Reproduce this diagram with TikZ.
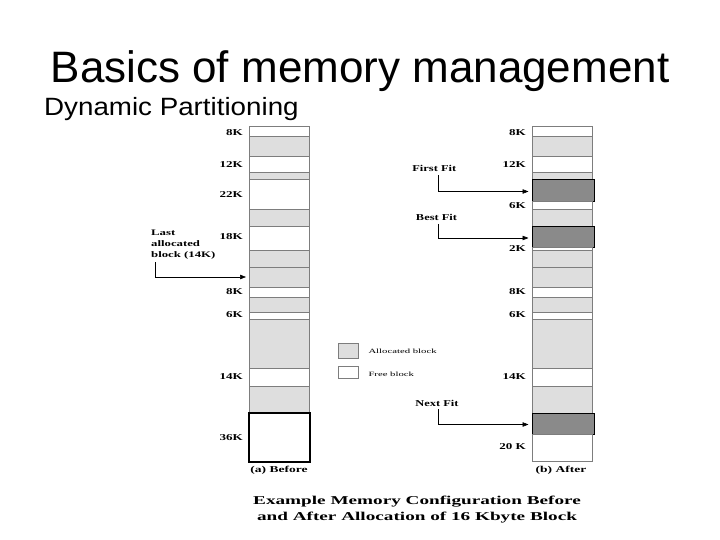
\documentclass[tikz,border=0pt]{standalone}
\usepackage{fontspec}
\setmainfont{Liberation Serif}
\newfontfamily\arialfont{Liberation Sans}
\usetikzlibrary{arrows.meta}
\definecolor{allocgray}{RGB}{222,222,222}
\definecolor{newgray}{RGB}{138,138,138}
\definecolor{linegray}{RGB}{125,125,125}
\newcommand{\stx}[2][1.45]{\scalebox{#1}[1]{#2}}
\tikzset{
  blk/.style={draw=linegray, line width=0.7pt, minimum width=60pt, anchor=north west, inner sep=0pt, outer sep=0pt},
  alloc/.style={blk, fill=allocgray},
  freeb/.style={blk, fill=white},
  newb/.style={blk, fill=newgray, draw=black, minimum width=61.5pt},
  lbl/.style={font=\fontsize{9}{10}\selectfont\bfseries, anchor=east, inner sep=0pt},
  fitlbl/.style={font=\fontsize{9}{10}\selectfont\bfseries, anchor=base, inner sep=0pt},
  arr/.style={-{Triangle[length=6pt,width=4.5pt]}, line width=0.6pt},
  legtxt/.style={font=\fontsize{6.5}{7}\selectfont, anchor=west, inner sep=0pt}
}
\begin{document}
\begin{tikzpicture}[x=1pt,y=-1pt]
\useasboundingbox (0,0) rectangle (720,540);
% titles
\node[anchor=base, inner sep=0pt, font=\arialfont\fontsize{44}{48}\selectfont] (title) at (360,83) {Basics of memory management};
\node[anchor=base west, inner sep=0pt, font=\arialfont\fontsize{25}{28}\selectfont] (sub) at (44,116) {\stx[1.11]{Dynamic Partitioning}};
% left column (before)
\node[freeb, minimum height=10pt] (l1) at (249,126) {};
\node[alloc, minimum height=20pt] (l2) at (249,136) {};
\node[freeb, minimum height=16pt] (l3) at (249,156) {};
\node[alloc, minimum height=7pt] (l4) at (249,172) {};
\node[freeb, minimum height=30pt] (l5) at (249,179) {};
\node[alloc, minimum height=17pt] (l6) at (249,209) {};
\node[freeb, minimum height=24pt] (l7) at (249,226) {};
\node[alloc, minimum height=17pt] (l8) at (249,250) {};
\node[alloc, minimum height=20pt] (l9) at (249,267) {};
\node[freeb, minimum height=10pt] (l10) at (249,287) {};
\node[alloc, minimum height=15pt] (l11) at (249,297) {};
\node[freeb, minimum height=7pt] (l12) at (249,312) {};
\node[alloc, minimum height=49pt] (l13) at (249,319) {};
\node[freeb, minimum height=18pt] (l14) at (249,368) {};
\node[alloc, minimum height=27pt] (l15) at (249,386) {};
\node[freeb, minimum height=49pt, draw=black, line width=1.1pt, minimum width=61pt] (l16) at (249,413) {};
% right column (after)
\node[freeb, minimum height=10pt] (r1) at (532.5,126) {};
\node[alloc, minimum height=20pt] (r2) at (532.5,136) {};
\node[freeb, minimum height=16pt] (r3) at (532.5,156) {};
\node[alloc, minimum height=7pt] (r4) at (532.5,172) {};
\node[newb, minimum height=22pt] (r5) at (532.5,179) {};
\node[freeb, minimum height=8pt] (r6) at (532.5,201) {};
\node[alloc, minimum height=17pt] (r7) at (532.5,209) {};
\node[newb, minimum height=21pt] (r8) at (532.5,226) {};
\node[freeb, minimum height=3pt] (r9) at (532.5,247) {};
\node[alloc, minimum height=17pt] (r10) at (532.5,250) {};
\node[alloc, minimum height=20pt] (r11) at (532.5,267) {};
\node[freeb, minimum height=10pt] (r12) at (532.5,287) {};
\node[alloc, minimum height=15pt] (r13) at (532.5,297) {};
\node[freeb, minimum height=7pt] (r14) at (532.5,312) {};
\node[alloc, minimum height=49pt] (r15) at (532.5,319) {};
\node[freeb, minimum height=18pt] (r16) at (532.5,368) {};
\node[alloc, minimum height=27pt] (r17) at (532.5,386) {};
\node[newb, minimum height=21pt] (r18) at (532.5,413) {};
\node[freeb, minimum height=27pt] (r19) at (532.5,434) {};
% left size labels
\node[lbl] (ll1) at (243,132.7) {\stx{8K}};
\node[lbl] (ll2) at (243,165) {\stx{12K}};
\node[lbl] (ll3) at (243,195) {\stx{22K}};
\node[lbl] (ll4) at (243,236.7) {\stx{18K}};
\node[lbl] (ll5) at (243,291.7) {\stx{8K}};
\node[lbl] (ll6) at (243,315) {\stx{6K}};
\node[lbl] (ll7) at (243,377) {\stx{14K}};
\node[lbl] (ll8) at (243,438) {\stx{36K}};
% right size labels
\node[lbl] (rl1) at (526,132.7) {\stx{8K}};
\node[lbl] (rl2) at (526,165) {\stx{12K}};
\node[lbl] (rl3) at (526,206) {\stx{6K}};
\node[lbl] (rl4) at (526,248.3) {\stx{2K}};
\node[lbl] (rl5) at (526,292) {\stx{8K}};
\node[lbl] (rl6) at (526,315) {\stx{6K}};
\node[lbl] (rl7) at (526,377) {\stx{14K}};
\node[lbl] (rl8) at (526,446.7) {\stx{20 K}};
% column captions
\node[fitlbl] (capa) at (279,472.3) {\stx[1.5]{(a) Before}};
\node[fitlbl] (capb) at (561,472.3) {\stx[1.5]{(b) After}};
% last allocated
\node[anchor=north west, align=left, inner sep=0pt, font=\fontsize{8.5}{10.7}\selectfont\bfseries] (la) at (151,230) {\stx[1.5]{Last}\\\stx[1.5]{allocated}\\\stx[1.5]{block (14K)}};
\draw[arr] ([xshift=4pt,yshift=-3pt]la.south west) |- ([xshift=-3pt]l9.west);
% fit labels and arrows
\node[fitlbl] (ff) at (434.3,172) {\stx[1.38]{First Fit}};
\node[fitlbl] (bf) at (436.5,220.5) {\stx[1.38]{Best Fit}};
\node[fitlbl] (nf) at (437,406) {\stx[1.38]{Next Fit}};
\draw[arr] ([xshift=4pt,yshift=-3pt]ff.south) |- ([xshift=-4pt,yshift=-1.5pt]r5.west);
\draw[arr] ([xshift=2pt,yshift=-3pt]bf.south) |- ([xshift=-4pt,yshift=-1.5pt]r8.west);
\draw[arr] ([xshift=1.5pt,yshift=-3pt]nf.south) |- ([xshift=-4pt,yshift=-1pt]r18.west);
% legend
\node[alloc, minimum width=20pt, minimum height=15pt] (lega) at (338.3,343.3) {};
\node[freeb, minimum width=20pt, minimum height=11.7pt] (legf) at (338.3,366.7) {};
\node[legtxt] (legat) at (368.3,351.7) {\stx[1.65]{Allocated block}};
\node[legtxt] (legft) at (368.3,374.5) {\stx[1.65]{Free block}};
% caption
\node[anchor=base, inner sep=0pt, font=\fontsize{12}{13}\selectfont\bfseries] (cap1) at (417,504) {\stx[1.6]{Example Memory Configuration Before}};
\node[anchor=base, inner sep=0pt, font=\fontsize{12}{13}\selectfont\bfseries] (cap2) at (417,520) {\stx[1.6]{and After Allocation of 16 Kbyte Block}};
\end{tikzpicture}
\end{document}
